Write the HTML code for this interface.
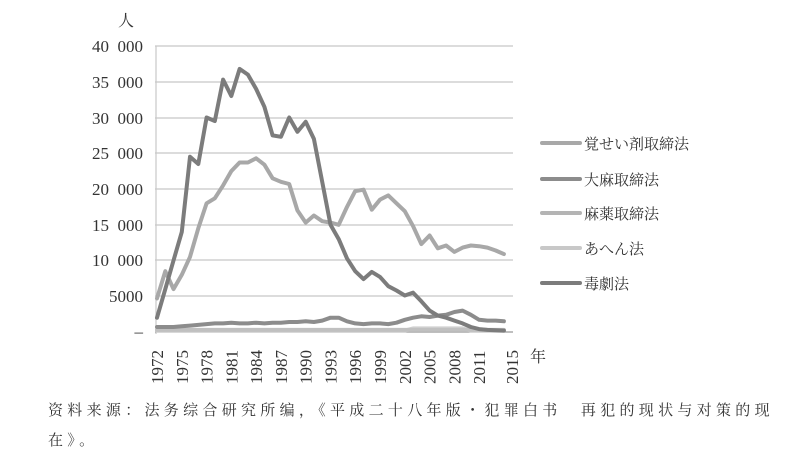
<!DOCTYPE html><html><head><meta charset="utf-8"><style>
body{margin:0;background:#fff;width:800px;height:462px;overflow:hidden}
text{font-family:"Liberation Serif","Noto Serif CJK SC",serif;fill:#333}
.cap{position:absolute;left:48px;top:396px;width:745px;font:15px/30px "Liberation Serif","Noto Serif CJK SC",serif;color:#333;letter-spacing:4.3px}
</style></head><body>
<svg width="800" height="400" style="position:absolute;left:0;top:0">
<g stroke="#c8c8c8" stroke-width="1.2">
<line x1="155" x2="513" y1="46" y2="46"/><line x1="155" x2="513" y1="82" y2="82"/><line x1="155" x2="513" y1="118" y2="118"/><line x1="155" x2="513" y1="153" y2="153"/><line x1="155" x2="513" y1="189" y2="189"/><line x1="155" x2="513" y1="225" y2="225"/><line x1="155" x2="513" y1="260" y2="260"/><line x1="155" x2="513" y1="296" y2="296"/>
<line x1="156" x2="156" y1="46" y2="334"/><line x1="155" x2="513" y1="332" y2="332" stroke="#999"/>
</g>
<g font-size="17" text-anchor="end">
<text x="143" y="52">40&#160;&#160;000</text><text x="143" y="88">35&#160;&#160;000</text><text x="143" y="124">30&#160;&#160;000</text><text x="143" y="159">25&#160;&#160;000</text><text x="143" y="195">20&#160;&#160;000</text><text x="143" y="231">15&#160;&#160;000</text><text x="143" y="266">10&#160;&#160;000</text><text x="143" y="302">5000</text><text x="143" y="337">–</text>
</g>
<text x="118" y="26" font-size="16">人</text>
<text x="530" y="362" font-size="16">年</text>
<g font-size="17" id="xl"></g>
<g fill="none" stroke-linejoin="round" stroke-linecap="round" stroke-width="4" id="ser"></g>
<g stroke-width="4" stroke-linecap="round">
<line x1="542" x2="580" y1="143" y2="143" stroke="#a8a8a8"/><line x1="542" x2="580" y1="179" y2="179" stroke="#8c8c8c"/><line x1="542" x2="580" y1="213" y2="213" stroke="#b4b4b4"/><line x1="542" x2="580" y1="248" y2="248" stroke="#c8c8c8"/><line x1="542" x2="580" y1="283" y2="283" stroke="#7c7c7c"/>
</g>
<g font-size="15" style="font-family:'Noto Sans CJK JP',sans-serif">
<text x="584" y="149">覚せい剤取締法</text><text x="584" y="185">大麻取締法</text><text x="584" y="219">麻薬取締法</text><text x="584" y="254">あへん法</text><text x="584" y="289">毒劇法</text>
</g>
</svg>
<div class="cap">资料来源：法务综合研究所编，《平成二十八年版・犯罪白书　再犯的现状与对策的现在》。</div>
<script>
const X=y=>157+(y-1972)*8.26, Y=v=>332-v*0.00715;
const dark=[2000,6000,10000,14000,24500,23500,30000,29500,35300,33000,36800,36000,34000,31500,27500,27300,30000,28000,29400,27000,21000,15000,13000,10300,8500,7400,8400,7700,6400,5800,5100,5500,4300,3000,2300,2000,1600,1200,700,400,300,250,200];
const light=[4700,8500,6000,8000,10500,14500,18000,18700,20500,22500,23700,23700,24300,23400,21500,21000,20700,17000,15300,16300,15500,15300,15000,17500,19700,19900,17100,18500,19100,18000,16900,14800,12300,13500,11700,12100,11200,11800,12100,12000,11800,11400,10900];
const mid=[700,700,700,800,900,1000,1100,1200,1200,1300,1200,1200,1300,1200,1300,1300,1400,1400,1500,1400,1600,2000,2000,1500,1200,1100,1200,1200,1100,1300,1700,2000,2200,2100,2300,2400,2800,3000,2400,1700,1600,1600,1500];
const l1=dark.map(()=>300), l2=dark.map((_,i)=>i>30&&i<38?500:200);
function path(d,c){return `<path d="M${d.map((v,i)=>X(1972+i).toFixed(1)+','+Y(v).toFixed(1)).join('L')}" stroke="${c}"/>`}
document.getElementById('ser').innerHTML=path(l2,'#d0d0d0')+path(l1,'#c0c0c0')+path(mid,'#8c8c8c')+path(light,'#a8a8a8')+path(dark,'#7c7c7c');
let s='';for(const y of [1972,1975,1978,1981,1984,1987,1990,1993,1996,1999,2002,2005,2008,2011,2015]){s+=`<text transform="translate(${X(y)+6},384) rotate(-90)">${y}</text>`}
document.getElementById('xl').innerHTML=s;
</script>
</body></html>
